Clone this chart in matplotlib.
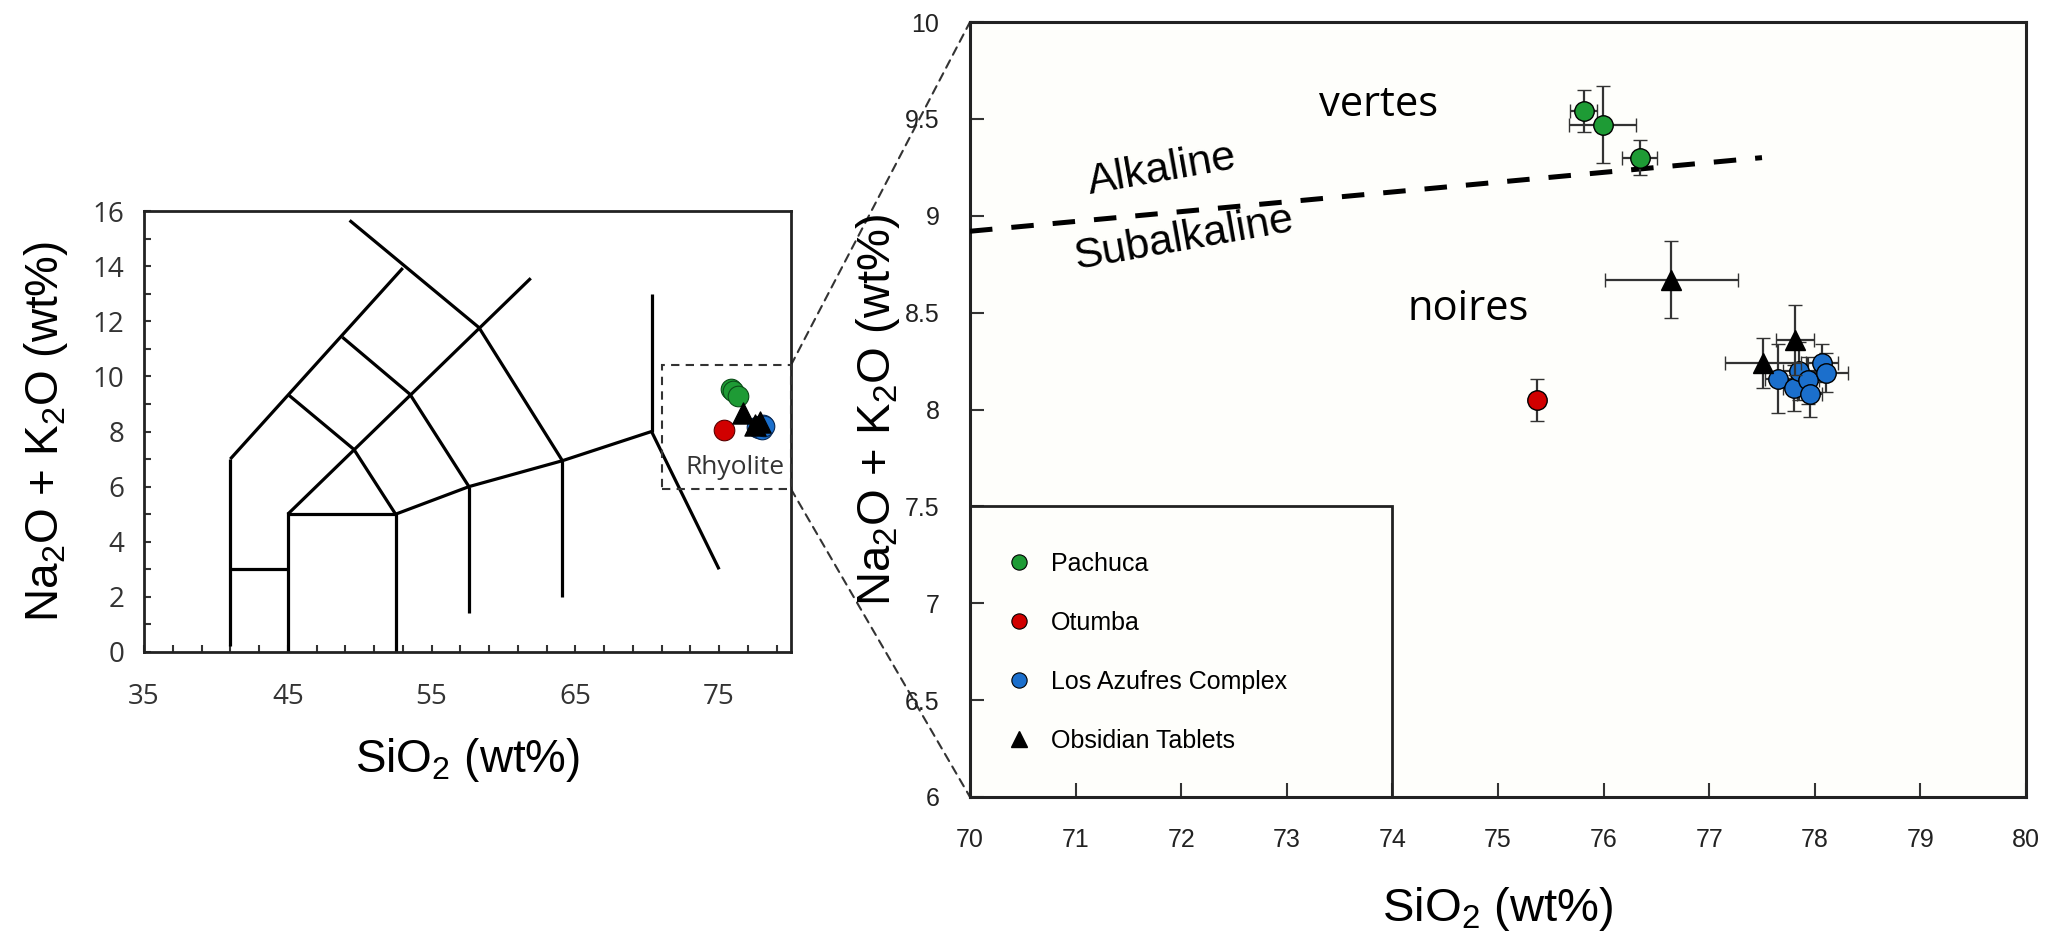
import numpy as np
import matplotlib
matplotlib.use("Agg")
import matplotlib.pyplot as plt
from matplotlib import font_manager
from matplotlib.patches import Rectangle, ConnectionPatch
from matplotlib.lines import Line2D

# --- data -------------------------------------------------------------
# TAS field boundaries (as drawn on the small diagram)
tas_lines = [
    [(41, 0.2), (41, 7)],
    [(41, 3), (45, 3)],
    [(45, 0), (45, 5.07)],
    [(45, 5), (52.5, 5)],
    [(52.5, 0), (52.5, 5)],
    [(52.5, 5), (57.6, 6), (64.1, 6.94), (70.3, 8)],
    [(57.6, 6), (57.6, 1.4)],
    [(64.1, 6.94), (64.1, 2.0)],
    [(70.3, 8), (70.3, 13)],
    [(70.3, 8), (75, 3)],
    [(41, 7), (53, 13.93)],
    [(49.3, 15.66), (58.3, 11.77), (64.1, 6.94)],
    [(45, 5), (61.9, 13.56)],
    [(45, 9.35), (49.6, 7.35), (52.5, 5)],
    [(48.8, 11.42), (53.5, 9.35), (57.6, 6)],
]

pachuca_x = [75.81, 75.99, 76.34]
pachuca_y = [9.54, 9.47, 9.30]
pachuca_xerr = [0.13, 0.32, 0.17]
pachuca_yerr = [0.11, 0.20, 0.09]

otumba_x = [75.37]
otumba_y = [8.05]
otumba_xerr = [0.03]
otumba_yerr = [0.11]

azufres_x = [77.65, 77.80, 77.85, 77.94, 77.95, 78.07, 78.11]
azufres_y = [8.16, 8.11, 8.20, 8.15, 8.08, 8.24, 8.19]
azufres_xerr = [0.12, 0.10, 0.15, 0.10, 0.12, 0.15, 0.20]
azufres_yerr = [0.18, 0.12, 0.15, 0.12, 0.12, 0.10, 0.10]

tablets_x = [76.64, 77.81, 77.51]
tablets_y = [8.67, 8.36, 8.24]
tablets_xerr = [0.63, 0.18, 0.36]
tablets_yerr = [0.20, 0.18, 0.13]

alk_x = [70, 77.5]
alk_y = [8.92, 9.30]

# --- fonts ------------------------------------------------------------
names = set(f.name for f in font_manager.fontManager.ttflist)
arial = "Liberation Sans"
narrow = "Liberation Sans Narrow" if "Liberation Sans Narrow" in names else arial
calibri = "Open Sans"

plt.rcParams["font.family"] = [arial, "DejaVu Sans"]
plt.rcParams["mathtext.fontset"] = "custom"
plt.rcParams["mathtext.rm"] = arial
plt.rcParams["mathtext.it"] = arial

green = "#1e9b35"
red = "#d10000"
blue = "#1b6fcc"
errc = "#333333"

fig = plt.figure(figsize=(20.63, 9.31), dpi=100)

# --- left: TAS diagram ------------------------------------------------
ax1 = fig.add_axes([144 / 2063, 1 - 652 / 931, 647 / 2063, 441 / 931])
for seg in tas_lines:
    xs, ys = zip(*seg)
    ax1.plot(xs, ys, color="black", lw=2.3, solid_capstyle="butt")

ax1.scatter(pachuca_x, pachuca_y, s=220, color=green, edgecolor="#0b4d18", lw=0.8, zorder=5)
ax1.scatter(otumba_x, otumba_y, s=220, color=red, edgecolor="#5a0000", lw=0.8, zorder=5)
ax1.scatter(azufres_x, azufres_y, s=220, color=blue, edgecolor="#0a2a55", lw=0.8, zorder=5)
ax1.scatter(tablets_x, tablets_y, s=230, marker="^", color="black", zorder=6)

ax1.add_patch(Rectangle((71.0, 5.91), 9.0, 4.5, fill=False, ls=(0, (4, 3)),
                        lw=1.5, edgecolor="#333333", zorder=4, clip_on=False))
ax1.text(76.1, 6.68, "Rhyolite", family=calibri, fontsize=19, ha="center",
         va="center", color="#333333")

ax1.set_xlim(35, 80)
ax1.set_ylim(0, 16)
ax1.set_xticks([35, 45, 55, 65, 75])
ax1.set_xticks(np.arange(35, 81, 2), minor=True)
ax1.set_yticks(np.arange(0, 17, 2))
ax1.set_yticks(np.arange(0, 17, 1), minor=True)
ax1.tick_params(which="both", direction="in", length=5, width=1.5, color="#333333")
ax1.tick_params(axis="x", pad=22)
ax1.tick_params(axis="y", pad=14)
for lab in ax1.get_xticklabels() + ax1.get_yticklabels():
    lab.set_family(calibri)
    lab.set_fontsize(20)
    lab.set_color("#333333")
for sp in ax1.spines.values():
    sp.set_linewidth(2.0)
    sp.set_color("#222222")
ax1.set_xlabel(r"SiO$_2$ (wt%)", fontsize=33, labelpad=18)
ax1.set_ylabel(r"Na$_2$O + K$_2$O (wt%)", fontsize=33, labelpad=16)

# --- right: zoom ------------------------------------------------------
ax2 = fig.add_axes([970 / 2063, 1 - 797 / 931, 1056 / 2063, 775 / 931])
ax2.set_facecolor("#fefefb")

ekw = dict(ls="none", ecolor=errc, elinewidth=1.6, capsize=5, capthick=1.6,
           markersize=14, markeredgecolor="black", markeredgewidth=1.0)
ax2.errorbar(pachuca_x, pachuca_y, xerr=pachuca_xerr, yerr=pachuca_yerr,
             marker="o", color=green, zorder=5, **ekw)
ax2.errorbar(otumba_x, otumba_y, xerr=otumba_xerr, yerr=otumba_yerr,
             marker="o", color=red, zorder=5, **ekw)
ax2.errorbar(azufres_x, azufres_y, xerr=azufres_xerr, yerr=azufres_yerr,
             marker="o", color=blue, zorder=5, **ekw)
ax2.errorbar(tablets_x, tablets_y, xerr=tablets_xerr, yerr=tablets_yerr,
             marker="^", color="black", zorder=6, **ekw)

ax2.plot(alk_x, alk_y, color="black", lw=3.6, dashes=(4.5, 3.8), zorder=4)
ax2.text(71.82, 9.235, "Alkaline", fontsize=31, rotation=10, ha="center",
         va="center", rotation_mode="anchor")
ax2.text(72.02, 8.88, "Subalkaline", fontsize=31, rotation=10, ha="center",
         va="center", rotation_mode="anchor")
ax2.text(73.87, 9.57, "vertes", family=calibri, fontsize=30, ha="center", va="center")
ax2.text(74.72, 8.52, "noires", family=calibri, fontsize=30, ha="center", va="center")

# legend box
ax2.add_patch(Rectangle((0, 0), 0.4, 0.375, transform=ax2.transAxes, fill=False,
                        lw=2.0, edgecolor="#222222", zorder=3))
handles = [
    Line2D([], [], ls="none", marker="o", markersize=11, color=green, markeredgecolor="black", markeredgewidth=0.8),
    Line2D([], [], ls="none", marker="o", markersize=11, color=red, markeredgecolor="black", markeredgewidth=0.8),
    Line2D([], [], ls="none", marker="o", markersize=11, color=blue, markeredgecolor="black", markeredgewidth=0.8),
    Line2D([], [], ls="none", marker="^", markersize=11, color="black"),
]
labels = ["Pachuca", "Otumba", "Los Azufres Complex", "Obsidian Tablets"]
ax2.legend(handles, labels, loc="upper left", bbox_to_anchor=(0.013, 0.345),
           frameon=False, handlelength=1.0, handletextpad=0.8,
           labelspacing=1.4, prop={"family": narrow, "size": 18})

ax2.set_xlim(70, 80)
ax2.set_ylim(6, 10)
ax2.set_xticks(np.arange(70, 81, 1))
ax2.set_yticks(np.arange(6, 10.01, 0.5))
ax2.set_yticklabels(["6", "6.5", "7", "7.5", "8", "8.5", "9", "9.5", "10"])
ax2.tick_params(direction="in", length=10, width=1.5, color="#333333")
ax2.tick_params(axis="x", pad=22)
ax2.tick_params(axis="y", pad=22)
for lab in ax2.get_xticklabels() + ax2.get_yticklabels():
    lab.set_family(narrow)
    lab.set_fontsize(18)
    lab.set_color("#222222")
for sp in ax2.spines.values():
    sp.set_linewidth(2.2)
    sp.set_color("#222222")
ax2.set_xlabel(r"SiO$_2$ (wt%)", fontsize=34, labelpad=24)
ax2.set_ylabel(r"Na$_2$O + K$_2$O (wt%)", fontsize=34, labelpad=2)

# dashed connectors from the rhyolite box to the zoom panel
for ya, yb in [(10.41, 10), (5.91, 6)]:
    con = ConnectionPatch(xyA=(80, ya), coordsA=ax1.transData,
                          xyB=(70, yb), coordsB=ax2.transData,
                          ls=(0, (4, 3)), lw=1.5, color="#333333", zorder=0)
    fig.add_artist(con)

fig.savefig("out.png", dpi=100, facecolor="white")
